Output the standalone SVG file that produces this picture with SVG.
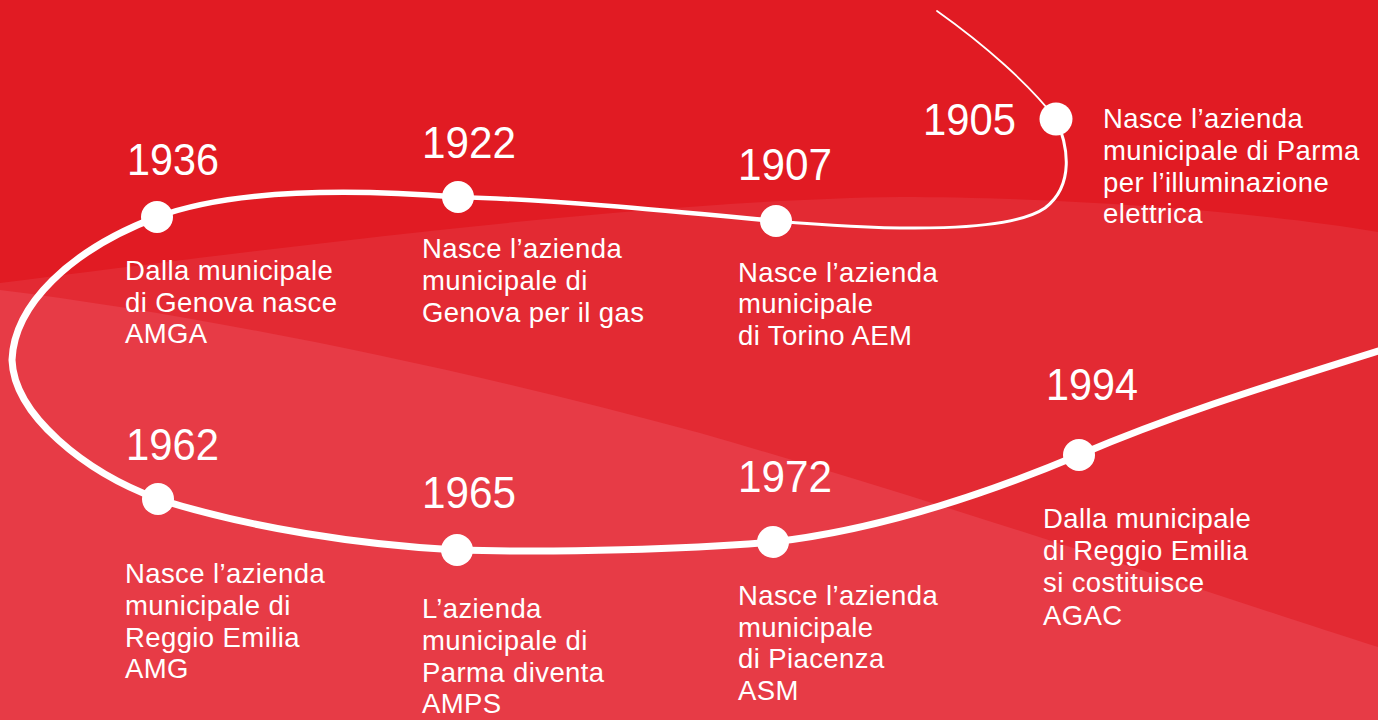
<svg xmlns="http://www.w3.org/2000/svg" width="1378" height="720" viewBox="0 0 1378 720">
<style>
.yr{font-family:"Liberation Sans",Arial,sans-serif;font-size:45px;fill:#fff}
.tx{font-family:"Liberation Sans",Arial,sans-serif;font-size:27.5px;letter-spacing:0.4px;fill:#fff}
.ln{fill:none;stroke:#fff;stroke-linecap:round}
.dot{fill:#fff}
</style>
<g id="background">
<rect x="0" y="0" width="1378" height="720" fill="#E11B23"/>
<path d="M0,283 C300,245 650,200 900,197 C1050,197 1250,210 1378,232 L1378,720 L0,720 Z" fill="#E32A33"/>
<path d="M0,290 C200,315 450,365 700,433 C950,505 1200,590 1378,647 L1378,720 L0,720 Z" fill="#E73B46"/>
</g>
<g id="connectors">
<path class="ln" stroke-width="1.8" d="M937,11 C985,45 1030,85 1056,119"/>
<path class="ln" stroke-width="3" d="M1056,119 C1068,145 1075,185 1045,208 C1010,232 900,232 776,221"/>
<path class="ln" stroke-width="4.5" d="M776,221 C680,212 560,200 458,197"/>
<path class="ln" stroke-width="5.5" d="M458,197 C340,188 230,190 157,217"/>
<path class="ln" stroke-width="7" d="M157,217 C70,250 14,305 12,360 C14,415 85,472 158,499"/>
<path class="ln" stroke-width="7" d="M158,499 C250,528 360,545 457,550 C560,553 690,549 773,542 C860,532 960,505 1079,455 C1180,412 1280,382 1378,351"/>
</g>
<g id="n1905">
<circle class="dot" cx="1056" cy="119" r="16.5"/>
<text class="yr" x="923" y="135" textLength="93" lengthAdjust="spacingAndGlyphs">1905</text>
<text class="tx"><tspan x="1103" y="128">Nasce l’azienda</tspan><tspan x="1103" y="160">municipale di Parma</tspan><tspan x="1103" y="192">per l’illuminazione</tspan><tspan x="1103" y="223">elettrica</tspan></text>
</g>
<g id="n1907">
<circle class="dot" cx="776" cy="221" r="16"/>
<text class="yr" x="738" y="180" textLength="94" lengthAdjust="spacingAndGlyphs">1907</text>
<text class="tx"><tspan x="738" y="282">Nasce l’azienda</tspan><tspan x="738" y="313">municipale</tspan><tspan x="738" y="345">di Torino AEM</tspan></text>
</g>
<g id="n1922">
<circle class="dot" cx="458" cy="197" r="16"/>
<text class="yr" x="422" y="158" textLength="94" lengthAdjust="spacingAndGlyphs">1922</text>
<text class="tx"><tspan x="422" y="258">Nasce l’azienda</tspan><tspan x="422" y="290">municipale di</tspan><tspan x="422" y="322">Genova per il gas</tspan></text>
</g>
<g id="n1936">
<circle class="dot" cx="157" cy="217" r="16"/>
<text class="yr" x="127" y="175" textLength="92" lengthAdjust="spacingAndGlyphs">1936</text>
<text class="tx"><tspan x="125" y="280">Dalla municipale</tspan><tspan x="125" y="312">di Genova nasce</tspan><tspan x="125" y="343">AMGA</tspan></text>
</g>
<g id="n1962">
<circle class="dot" cx="158" cy="499" r="16"/>
<text class="yr" x="126" y="460" textLength="93" lengthAdjust="spacingAndGlyphs">1962</text>
<text class="tx"><tspan x="125" y="583">Nasce l’azienda</tspan><tspan x="125" y="615">municipale di</tspan><tspan x="125" y="647">Reggio Emilia</tspan><tspan x="125" y="678">AMG</tspan></text>
</g>
<g id="n1965">
<circle class="dot" cx="457" cy="550" r="16"/>
<text class="yr" x="422" y="508" textLength="94" lengthAdjust="spacingAndGlyphs">1965</text>
<text class="tx"><tspan x="422" y="618">L’azienda</tspan><tspan x="422" y="650">municipale di</tspan><tspan x="422" y="682">Parma diventa</tspan><tspan x="422" y="713">AMPS</tspan></text>
</g>
<g id="n1972">
<circle class="dot" cx="773" cy="542" r="16"/>
<text class="yr" x="738" y="492" textLength="94" lengthAdjust="spacingAndGlyphs">1972</text>
<text class="tx"><tspan x="738" y="605">Nasce l’azienda</tspan><tspan x="738" y="637">municipale</tspan><tspan x="738" y="668">di Piacenza</tspan><tspan x="738" y="700">ASM</tspan></text>
</g>
<g id="n1994">
<circle class="dot" cx="1079" cy="455" r="16"/>
<text class="yr" x="1046" y="400" textLength="92" lengthAdjust="spacingAndGlyphs">1994</text>
<text class="tx"><tspan x="1043" y="528">Dalla municipale</tspan><tspan x="1043" y="560">di Reggio Emilia</tspan><tspan x="1043" y="592">si costituisce</tspan><tspan x="1043" y="625">AGAC</tspan></text>
</g>
</svg>
